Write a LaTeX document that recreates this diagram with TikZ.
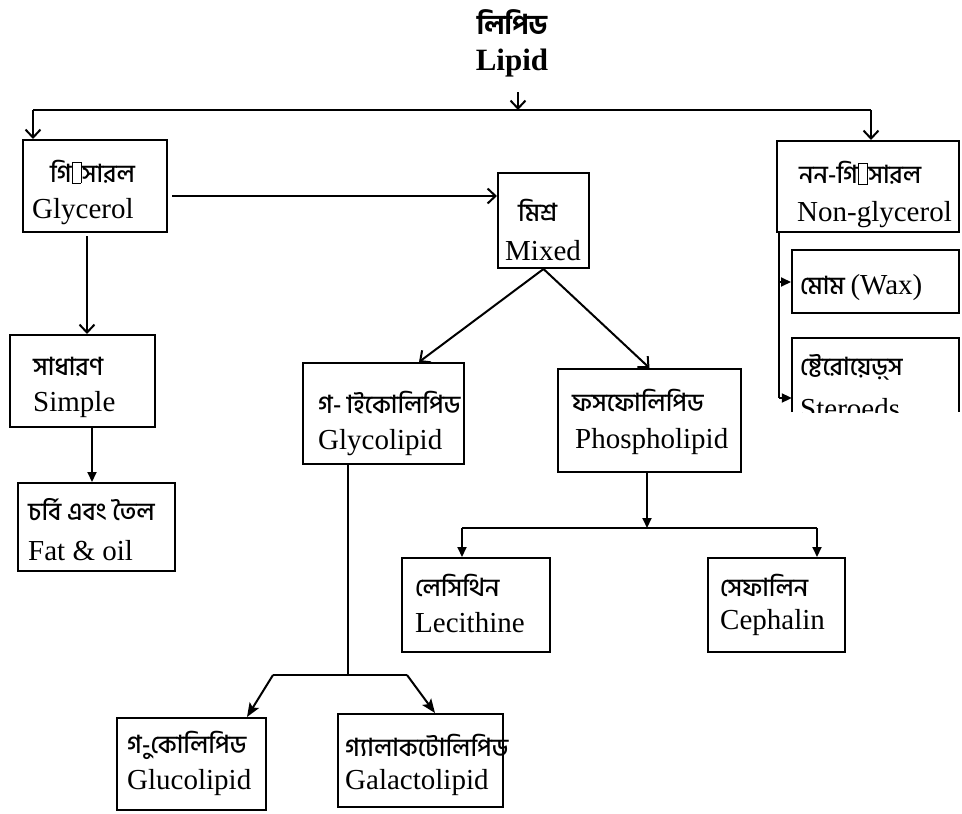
\documentclass[tikz,border=0pt]{standalone}
\usepackage{fontspec}
\setmainfont{Liberation Serif}
\newfontfamily\bnfam[Script=Bengali, UprightFont=* Medium, BoldFont=* Bold]{Hind Siliguri}
\usetikzlibrary{arrows.meta}
\newcommand\enf{\rmfamily\fontsize{29bp}{31bp}\selectfont}
\newcommand\bnf{\bnfam\fontsize{25bp}{28bp}\selectfont}
\newcommand\tofu{\kern0.5bp{\setlength\fboxsep{0pt}\setlength\fboxrule{0.7bp}\fbox{\rule{0pt}{20bp}\hspace{8bp}}}\kern0.5bp}
\newcommand\bglyph[1]{\XeTeXglyph\XeTeXcharglyph"#1\relax}
\begin{document}
\begin{tikzpicture}[x=1bp,y=-1bp,
  bx/.style={draw, line width=2bp, inner sep=0pt},
  tx/.style={anchor=west, inner sep=0pt},
  ln/.style={line width=2bp},
  arrV/.style={ln, -{Straight Barb[length=8bp,width=15bp,line width=2bp]}},
  arrT/.style={ln, -{Triangle[length=10bp,width=9bp]}},
  arrS/.style={ln, -{Stealth[length=14bp,width=11bp,inset=3bp]}}]
\useasboundingbox (0,0) rectangle (962,814);
% title
\node[inner sep=0pt] (tbn) at (512,22) {\bnfam\fontsize{27bp}{29bp}\selectfont\bfseries লিপিড};
\node[inner sep=0pt] (ten) at (512,63) {\rmfamily\fontsize{31bp}{33bp}\selectfont\bfseries Lipid};
% boxes
\node[bx, minimum width=144bp, minimum height=92bp] (gly) at (95,186) {};
\node[bx, minimum width=91bp, minimum height=95bp] (mixed) at (543.5,220.5) {};
\node[bx, minimum width=182bp, minimum height=91bp] (nong) at (868,186.5) {};
\node[bx, minimum width=167bp, minimum height=63bp] (wax) at (875.5,281.5) {};
\node[inner sep=0pt, minimum width=167bp, minimum height=74bp] (ster) at (875.5,375) {};
\draw[ln] (ster.south west) -- (ster.north west) -- (ster.north east) -- (ster.south east);
\node[bx, minimum width=145bp, minimum height=92bp] (simple) at (82.5,381) {};
\node[bx, minimum width=157bp, minimum height=88bp] (fat) at (96.5,527) {};
\node[bx, minimum width=161bp, minimum height=101bp] (glyco) at (383.5,413.5) {};
\node[bx, minimum width=183bp, minimum height=103bp] (phos) at (649.5,420.5) {};
\node[bx, minimum width=148bp, minimum height=94bp] (leci) at (476,605) {};
\node[bx, minimum width=137bp, minimum height=94bp] (ceph) at (776.5,605) {};
\node[bx, minimum width=149bp, minimum height=92bp] (gluco) at (191.5,764) {};
\node[bx, minimum width=165bp, minimum height=93bp] (galac) at (420.5,760.5) {};
% texts
\node[tx] (glyb) at (50,172) {\bnf গি\tofu সারল};
\node[tx] (glye) at (32,212) {\enf Glycerol};
\node[tx] (mixb) at (518,210) {\bnf মিশ্র};
\node[tx] (mixe) at (505,251) {\enf Mixed};
\node[tx] (nongb) at (799,173) {\bnf নন-গি\tofu সারল};
\node[tx] (nonge) at (797,215) {\enf Non-glycerol};
\node[tx] (waxt) at (800,288) {\bnf মোম \enf (Wax)};
\node[tx] (sterb) at (800,367) {\bnf ষ্টেরোয়েড়্^^^^200cস};
\begin{scope}
\clip (ster.north west) rectangle (ster.south east);
\node[tx] (stere) at (800,409) {\enf Steroeds};
\end{scope}
\node[tx] (simb) at (33,367) {\bnf সাধারণ};
\node[tx] (sime) at (33,405) {\enf Simple};
\node[tx] (fatb) at (28,510) {\bnf চর্বি এবং তৈল};
\node[tx] (fate) at (28,551) {\enf Fat \& oil};
\node[tx] (glycob) at (318,402) {\bnf গ-\hspace{5bp}\bglyph{09BE}ইকোলিপিড};
\node[tx] (glycoe) at (318,443) {\enf Glycolipid};
\node[tx] (phosb) at (572,400) {\bnf ফসফোলিপিড};
\node[tx] (phose) at (575,442) {\enf Phospholipid};
\node[tx] (lecib) at (415,585) {\bnf লেসিথিন};
\node[tx] (lecie) at (415,623) {\enf Lecithine};
\node[tx] (cephb) at (720,585) {\bnf সেফালিন};
\node[tx] (cephe) at (720,623) {\enf Cephalin};
\node[tx] (glucob) at (127,745) {\bnf গ-\bglyph{09C1}কোলিপিড};
\node[tx] (glucoe) at (127,783) {\enf Glucolipid};
\node[tx] (galacb) at (345,745) {\bnf গ্যালাকটোলিপিড};
\node[tx] (galace) at (345,783) {\enf Galactolipid};
% connectors
\coordinate (lipA) at (518,92);
\coordinate (busL) at (33,110);
\coordinate (busR) at (871,110);
\draw[arrV] (lipA) -- (lipA |- busL);
\draw[ln] (busL) -- (busR);
\draw[arrV] (busL) -- (busL |- gly.north);
\draw[arrV] (busR) -- (busR |- nong.north);
\coordinate (gm) at (172,196);
\draw[arrV] (gm) -- (gm -| mixed.west);
\coordinate (gs) at (87,236);
\draw[arrV] (gs) -- (gs |- simple.north);
\coordinate (sf) at (92,427);
\draw[arrT] (sf) -- (sf |- fat.north);
\draw[arrV] (mixed.south) -- (419,0 |- glyco.north);
\draw[arrV] (mixed.south) -- (phos.north);
\coordinate (pj) at (647,528);
\coordinate (pl) at (462,528);
\coordinate (pr) at (817,528);
\draw[arrT] (pj |- phos.south) -- (pj);
\draw[ln] (pl) -- (pr);
\draw[arrT] (pl) -- (pl |- leci.north);
\draw[arrT] (pr) -- (pr |- ceph.north);
\coordinate (gj) at (348,675);
\coordinate (gjl) at (273,675);
\coordinate (gjr) at (407,675);
\draw[ln] (gj |- glyco.south) -- (gj);
\draw[ln] (gjl) -- (gjr);
\draw[arrS] (gjl) -- (247,0 |- gluco.north);
\draw[arrS] (gjr) -- (435,0 |- galac.north);
\coordinate (nv) at (779,0 |- nong.south);
\coordinate (nvw) at (779,282);
\coordinate (nvb) at (779,398);
\draw[ln] (nv) -- (nvb);
\draw[arrT] (nvw) -- (nvw -| wax.west);
\draw[arrT] (nvb) -- (nvb -| ster.west);
\end{tikzpicture}
\end{document}
